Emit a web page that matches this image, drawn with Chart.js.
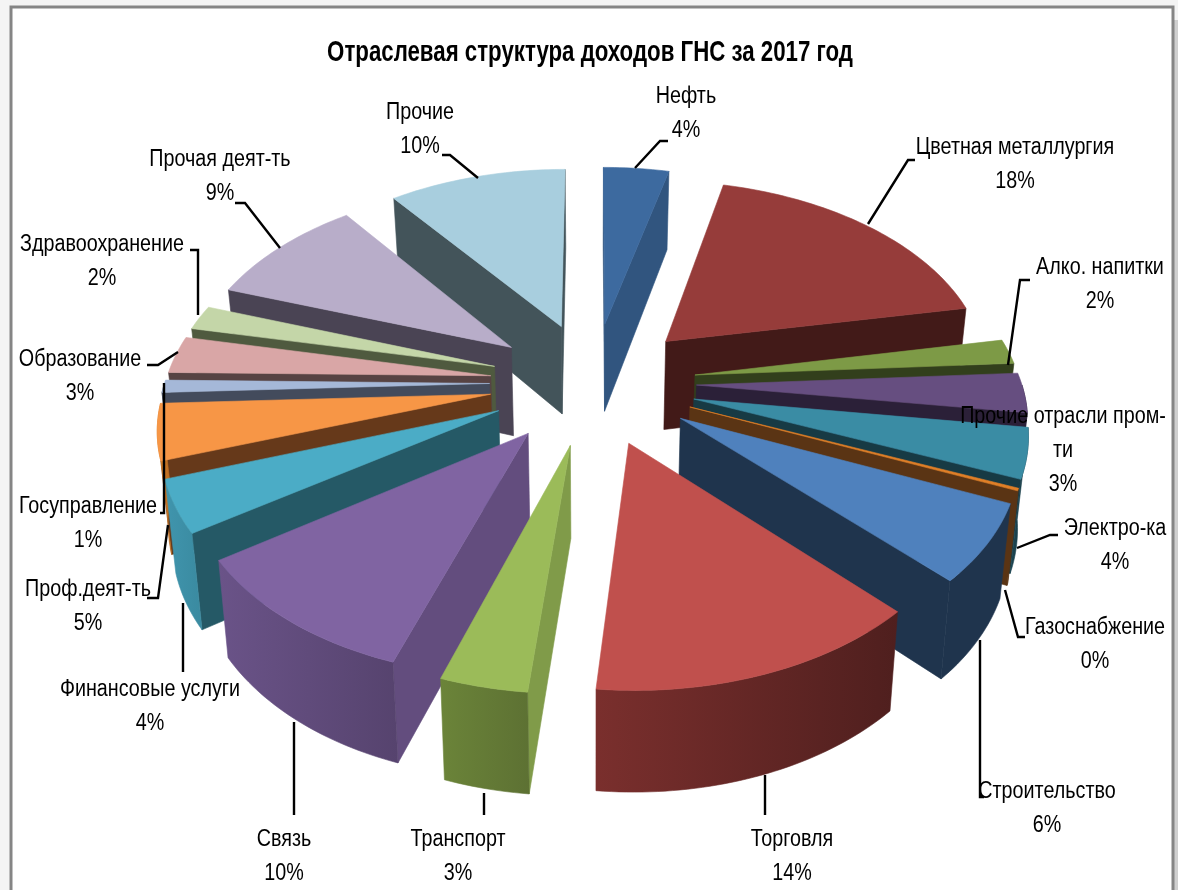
<!DOCTYPE html>
<html lang="ru">
<head>
<meta charset="utf-8">
<title>Отраслевая структура доходов ГНС за 2017 год</title>
<script src="https://cdn.jsdelivr.net/npm/chart.js@4"></script>
<style>
html,body{margin:0;padding:0;background:#fff;overflow:hidden}
#wrap{width:1178px;height:890px}
</style>
</head>
<body>
<div id="wrap"><canvas id="c" width="1178" height="890"></canvas></div>
<script>
// ---- data ----
const chartTitle = 'Отраслевая структура доходов ГНС за 2017 год';
const categories = ['Нефть','Цветная металлургия','Алко. напитки','Прочие отрасли пром-ти','Электро-ка','Газоснабжение','Строительство','Торговля','Транспорт','Связь','Финансовые услуги','Проф.деят-ть','Госуправление','Образование','Здравоохранение','Прочая деят-ть','Прочие'];
const values = [3.8,18.1,2.0,3.2,4.0,0.2,6.2,13.8,3.6,10.3,4.2,4.5,1.0,3.0,2.0,9.3,10.3];
const percentLabels = ['4%','18%','2%','3%','4%','0%','6%','14%','3%','10%','4%','5%','1%','3%','2%','9%','10%'];

// ---- styles ----
const topColors  = ['#3d6a9f','#963c3a','#7d9a46','#664e80','#3a8ca4','#e07f27','#4f81bd','#c0504d','#9bbb59','#8064a2','#4bacc6','#f79646','#a5b8d8','#d9a6a6','#c4d6a8','#b8adc9','#a8cede'];
const wallColors = ['#31557f','#421a18','#323f1c','#2b2038','#173a44','#5a3414','#1f344d','#5a2422','#809b49','#634d7e','#255966','#66391a','#434b5c','#574343','#4f5a3f','#4a4454','#43545a'];
const rimLight   = ['#31557f','#421a18','#323f1c','#2b2038','#1b4552','#5a3414','#1f344d','#7a2f2d','#6b8439','#6a5388','#4095ad','#d9822b','#434b5c','#574343','#4f5a3f','#4a4454','#43545a'];
const rimDark    = ['#31557f','#421a18','#323f1c','#2b2038','#173a44','#5a3414','#1f344d','#4f1f1e','#5d7133','#56436e','#3a8aa0','#b86a20','#434b5c','#574343','#4f5a3f','#4a4454','#43545a'];

// ---- label layout ----
const labelLayout = [
 {x:686,y:97,  lines:[[635,168],[660,141],[668,141]]},
 {x:1015,y:148,lines:[[868,224],[908,160],[915,160]]},
 {x:1100,y:268,lines:[[1008,365],[1020,280],[1030,280]]},
 {x:1063,y:417,wrap:['Прочие отрасли пром-','ти'],lines:[]},
 {x:1115,y:529,lines:[[1017,548],[1050,535],[1058,535]]},
 {x:1095,y:628,lines:[[1005,590],[1018,637],[1025,637]]},
 {x:1047,y:792,lines:[[980,640],[980,797],[984,797]]},
 {x:792,y:840, lines:[[765,775],[765,815]]},
 {x:458,y:840, lines:[[484,793],[484,815]]},
 {x:284,y:840, lines:[[294,722],[294,815]]},
 {x:150,y:690, lines:[[183,603],[183,672]]},
 {x:88,y:590,  lines:[[168,525],[158,598],[147,598]]},
 {x:88,y:507,  lines:[[164,383],[164,513],[160,513]]},
 {x:80,y:360,  lines:[[178,352],[158,365],[147,365]]},
 {x:102,y:245, lines:[[198,315],[198,250],[190,250]]},
 {x:220,y:160, lines:[[280,248],[245,203],[235,203]]},
 {x:420,y:113, lines:[[478,178],[450,155],[442,155]]}
];
const lineGap = 34;
const FONT = '"Liberation Sans",sans-serif';

// ---- perspective of the pie plane ----
const view = {cx:593, cy:382.6, sx:325, sy:193.7, persp:0.14, depth:90, taper:0.975};
function project(X, Y, lower){
  const w = 1 - view.persp*Y;
  if(!lower) return [view.cx + view.sx*X/w, view.cy + view.sy*Y/w];
  const d = view.depth*(1 + 0.1*Y);
  return [view.cx + view.taper*view.sx*X/w, view.cy + view.sy*Y/w + d];
}
function poly(ctx, pts, fill){
  ctx.beginPath();
  pts.forEach((p,i)=> i?ctx.lineTo(p[0],p[1]):ctx.moveTo(p[0],p[1]));
  ctx.closePath();
  ctx.fillStyle = fill; ctx.fill();
  ctx.strokeStyle = fill; ctx.lineWidth = 0.6; ctx.stroke();
}
function squeezedText(ctx, t, x, y, k){
  ctx.save(); ctx.translate(x,y); ctx.scale(k,1); ctx.fillText(t,0,0); ctx.restore();
}

const pie3d = {
  id:'pie3d',
  beforeDraw(chart){
    const ctx = chart.ctx, W = chart.width, H = chart.height;
    ctx.save();
    ctx.fillStyle = '#f4f4f4'; ctx.fillRect(0,0,W,H);
    ctx.fillStyle = '#cfcfcf'; ctx.fillRect(1174,20,4,H);
    ctx.fillStyle = '#ffffff'; ctx.fillRect(11,7,1162,H+20);
    ctx.strokeStyle = '#858585'; ctx.lineWidth = 3;
    ctx.strokeRect(11,7,1162,H+20);
    ctx.restore();
  },
  beforeDatasetDraw(chart, args){
    const ctx = chart.ctx;
    const arcs = chart.getDatasetMeta(args.index).data;
    const slices = arcs.map((arc,i)=>{
      const R = arc.outerRadius;
      const e = arc.options.offset / R;
      const a0 = arc.startAngle + Math.PI/2, a1 = arc.endAngle + Math.PI/2;
      const mid = (a0+a1)/2;
      return {i,a0,a1,mid,ox:e*Math.sin(mid),oy:-e*Math.cos(mid)};
    }).sort((p,q)=>p.oy-q.oy);

    ctx.save();
    slices.forEach(s=>{
      const rim = (a,lower)=>project(s.ox+Math.sin(a), s.oy-Math.cos(a), lower);
      const tipT = project(s.ox,s.oy,false), tipB = project(s.ox,s.oy,true);
      const M = rim(s.mid,false);
      const wall = a=>{
        const Q = rim(a,false), Qb = rim(a,true);
        const side = (px,py)=>(Q[0]-tipT[0])*(py-tipT[1])-(Q[1]-tipT[1])*(px-tipT[0]);
        if(side(M[0],M[1])*side((tipT[0]+Q[0])/2,(tipT[1]+Q[1])/2+10) < 0)
          poly(ctx,[tipT,Q,Qb,tipB],wallColors[s.i]);
      };
      wall(s.a0); wall(s.a1);
      // outer rim wall, facing the viewer only
      const from = Math.max(s.a0,Math.PI/2), to = Math.min(s.a1,3*Math.PI/2);
      if(to>from){
        const n = Math.max(2,Math.ceil((to-from)/0.02));
        const up=[],lo=[];
        for(let k=0;k<=n;k++){ const a=from+(to-from)*k/n; up.push(rim(a,false)); lo.push(rim(a,true)); }
        const xs = up.concat(lo).map(p=>p[0]);
        const g = ctx.createLinearGradient(Math.max(...xs),0,Math.min(...xs),0);
        g.addColorStop(0,rimDark[s.i]); g.addColorStop(1,rimLight[s.i]);
        poly(ctx,up.concat(lo.reverse()),g);
      }
      // top face
      const n = Math.max(2,Math.ceil((s.a1-s.a0)/0.02));
      const face=[tipT];
      for(let k=0;k<=n;k++) face.push(rim(s.a0+(s.a1-s.a0)*k/n,false));
      poly(ctx,face,topColors[s.i]);
    });
    ctx.restore();
    return false;
  },
  afterDatasetsDraw(chart){
    const ctx = chart.ctx;
    ctx.save();
    ctx.strokeStyle='#000'; ctx.lineWidth=2.4; ctx.lineJoin='miter';
    labelLayout.forEach(l=>{
      if(!l.lines.length) return;
      ctx.beginPath();
      l.lines.forEach((p,i)=> i?ctx.lineTo(p[0],p[1]):ctx.moveTo(p[0],p[1]));
      ctx.stroke();
    });
    ctx.fillStyle='#000'; ctx.textAlign='center'; ctx.textBaseline='middle';
    ctx.font = 'bold 30px '+FONT;
    squeezedText(ctx,chartTitle,590,53,0.742);
    ctx.font = '23.5px '+FONT;
    labelLayout.forEach((l,i)=>{
      const rows = (l.wrap||[categories[i]]).concat(percentLabels[i]);
      rows.forEach((t,k)=>squeezedText(ctx,t,l.x,l.y+k*lineGap,0.84));
    });
    ctx.restore();
  }
};

new Chart(document.getElementById('c'),{
  type:'pie',
  data:{labels:categories,datasets:[{data:values,backgroundColor:topColors,borderWidth:0,offset:113}]},
  options:{
    responsive:false,animation:false,rotation:0,
    layout:{padding:{top:66}},
    plugins:{legend:{display:false},tooltip:{enabled:false},title:{display:false}}
  },
  plugins:[pie3d]
});
</script>
</body>
</html>
